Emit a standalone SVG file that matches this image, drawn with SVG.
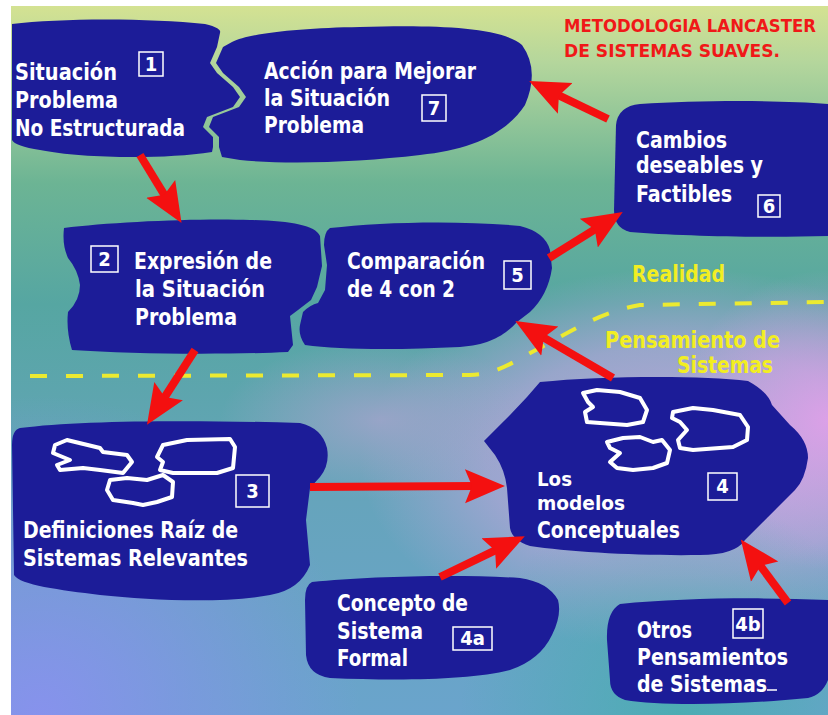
<svg xmlns="http://www.w3.org/2000/svg" width="828" height="715" viewBox="0 0 828 715">
<defs>
<linearGradient id="bgv" x1="0" y1="0" x2="0" y2="1">
<stop offset="0" stop-color="#d4e292"/>
<stop offset="0.08" stop-color="#b4d69c"/>
<stop offset="0.25" stop-color="#6cb494"/>
<stop offset="0.42" stop-color="#56a6a2"/>
<stop offset="0.7" stop-color="#66a4bc"/>
<stop offset="1" stop-color="#6aa4cc"/>
</linearGradient>
<radialGradient id="lav" cx="680" cy="460" r="320" gradientUnits="userSpaceOnUse" gradientTransform="translate(680,460) scale(1,0.6) translate(-680,-460)">
<stop offset="0" stop-color="#c6aae2" stop-opacity="0.95"/>
<stop offset="0.6" stop-color="#b2a6d8" stop-opacity="0.7"/>
<stop offset="1" stop-color="#b2a6d8" stop-opacity="0"/>
</radialGradient>
<radialGradient id="lav2" cx="380" cy="420" r="160" gradientUnits="userSpaceOnUse" gradientTransform="translate(380,420) scale(1,0.5) translate(-380,-420)">
<stop offset="0" stop-color="#a4a4cc" stop-opacity="0.8"/>
<stop offset="1" stop-color="#a4a4cc" stop-opacity="0"/>
</radialGradient>
<radialGradient id="pink" cx="828" cy="420" r="150" gradientUnits="userSpaceOnUse">
<stop offset="0" stop-color="#e2a0ea" stop-opacity="0.9"/>
<stop offset="1" stop-color="#e2a0ea" stop-opacity="0"/>
</radialGradient>
<radialGradient id="blu" cx="40" cy="715" r="320" gradientUnits="userSpaceOnUse">
<stop offset="0" stop-color="#8a90f0" stop-opacity="0.9"/>
<stop offset="1" stop-color="#8a90f0" stop-opacity="0"/>
</radialGradient>
<radialGradient id="teal" cx="680" cy="715" r="220" gradientUnits="userSpaceOnUse">
<stop offset="0" stop-color="#40b0a8" stop-opacity="0.7"/>
<stop offset="1" stop-color="#40b0a8" stop-opacity="0"/>
</radialGradient>
<marker id="ah" markerUnits="userSpaceOnUse" markerWidth="42" markerHeight="38" viewBox="0 -19 42 38" refX="10" refY="0" orient="auto">
<path d="M0,-17 L40,0 L0,17 L7,0 Z" fill="#f41010"/>
</marker>
<style>
.blob{fill:#1c1c98}
.t{font-family:"Liberation Sans Narrow","DejaVu Sans Condensed","Liberation Sans",sans-serif;font-weight:bold;font-size:23px;fill:#ffffff}
.t.sm{font-size:20px}
.num{font-family:"Liberation Sans Narrow","DejaVu Sans Condensed","Liberation Sans",sans-serif;font-weight:bold;font-size:20px;fill:#ffffff;text-anchor:middle}
.box{fill:none;stroke:#ffffff;stroke-width:1.5}
.loop{fill:none;stroke:#ffffff;stroke-width:4;stroke-linejoin:round}
.yl{font-family:"Liberation Sans Narrow","DejaVu Sans Condensed","Liberation Sans",sans-serif;font-weight:bold;font-size:23px;fill:#f2ee22}
.title{font-family:"Liberation Sans Narrow","DejaVu Sans Condensed","Liberation Sans",sans-serif;font-weight:bold;font-size:18px;fill:#f01818}
.dash{fill:none;stroke:#ecea30;stroke-width:4;stroke-dasharray:17 19}
.arrow{fill:none;stroke:#f41010;stroke-width:8;marker-end:url(#ah)}
</style>
</defs>
<rect x="0" y="0" width="828" height="715" fill="#ffffff"/>
<rect x="11" y="6" width="817" height="709" fill="url(#bgv)"/>
<rect x="11" y="6" width="817" height="709" fill="url(#lav)"/>
<rect x="11" y="6" width="817" height="709" fill="url(#lav2)"/>
<rect x="11" y="6" width="817" height="709" fill="url(#pink)"/>
<rect x="11" y="6" width="817" height="709" fill="url(#blu)"/>
<rect x="11" y="6" width="817" height="709" fill="url(#teal)"/>

<text class="title" x="564" y="32" textLength="252" lengthAdjust="spacingAndGlyphs">METODOLOGIA LANCASTER</text>
<text class="title" x="564" y="57" textLength="216" lengthAdjust="spacingAndGlyphs">DE SISTEMAS SUAVES.</text>

<path class="dash" d="M30,376 L470,375 C500,374 515,360 540,348 C570,332 600,312 640,305 L828,302"/>
<text class="yl" x="632" y="282" textLength="93" lengthAdjust="spacingAndGlyphs">Realidad</text>
<text class="yl" x="605" y="348" textLength="175" lengthAdjust="spacingAndGlyphs">Pensamiento de</text>
<text class="yl" x="677" y="373" textLength="96" lengthAdjust="spacingAndGlyphs">Sistemas</text>

<g id="node1">
<path class="blob" d="M12,24 C60,18 150,18 205,24 Q222,28 220,33 L217,47 L210,63 L217,73 L233,87 L240,97 L233,107 L207,117 L203,127 L213,137 L213,147 L212,152 C160,160 80,158 40,150 Q15,146 12,140 Z"/>
<text class="t" x="15" y="80" textLength="102" lengthAdjust="spacingAndGlyphs">Situación</text>
<text class="t" x="15" y="108" textLength="103" lengthAdjust="spacingAndGlyphs">Problema</text>
<text class="t" x="15" y="136" textLength="170" lengthAdjust="spacingAndGlyphs">No Estructurada</text>
<rect class="box" x="139" y="52" width="24" height="24"/>
<text class="num" x="151" y="71">1</text>
</g>

<g id="node7">
<path class="blob" d="M232,42 C250,33 300,28 360,27 C430,25 500,26 522,45 Q540,70 525,105 C505,135 470,150 420,155 C360,162 290,165 240,160 L222,157 L219,147 L219,137 L209,127 L213,117 L239,107 L246,97 L239,87 L223,73 L216,63 L223,47 Z"/>
<text class="t" x="264" y="79" textLength="212" lengthAdjust="spacingAndGlyphs">Acción para Mejorar</text>
<text class="t" x="264" y="106" textLength="126" lengthAdjust="spacingAndGlyphs">la Situación</text>
<text class="t" x="264" y="133" textLength="100" lengthAdjust="spacingAndGlyphs">Problema</text>
<rect class="box" x="422" y="95" width="24" height="26"/>
<text class="num" x="434" y="115">7</text>
</g>

<g id="node6">
<path class="blob" d="M616,125 Q618,106 640,104 C700,100 780,100 828,104 L828,236 C760,238 680,236 630,232 Q614,228 614,210 Z"/>
<text class="t" x="636" y="148" textLength="91" lengthAdjust="spacingAndGlyphs">Cambios</text>
<text class="t" x="636" y="173" textLength="127" lengthAdjust="spacingAndGlyphs">deseables y</text>
<text class="t" x="636" y="202" textLength="96" lengthAdjust="spacingAndGlyphs">Factibles</text>
<rect class="box" x="758" y="195" width="22" height="22"/>
<text class="num" x="769" y="213">6</text>
</g>

<g id="node2">
<path class="blob" d="M64,228 C110,222 200,218 250,220 C290,221 315,225 320,236 L322,266 L317,287 L311,300 L298,310 L290,316 L293,345 L288,352 C220,355 130,354 72,350 Q66,330 68,312 Q80,300 80,285 Q78,270 68,258 Q62,245 64,228 Z"/>
<text class="t" x="134" y="269" textLength="138" lengthAdjust="spacingAndGlyphs">Expresión de</text>
<text class="t" x="135" y="297" textLength="130" lengthAdjust="spacingAndGlyphs">la Situación</text>
<text class="t" x="135" y="325" textLength="102" lengthAdjust="spacingAndGlyphs">Problema</text>
<rect class="box" x="91" y="246" width="27" height="26"/>
<text class="num" x="104.5" y="266">2</text>
</g>

<g id="node5">
<path class="blob" d="M330,228 C380,222 460,220 520,226 Q545,232 550,250 L552,268 Q548,295 530,312 L517,322 C505,335 490,345 460,347 C400,350 340,350 305,345 Q298,335 300,325 L303,312 Q310,305 318,303 L325,290 L327,265 L324,245 Q324,232 330,228 Z"/>
<text class="t" x="347" y="269" textLength="138" lengthAdjust="spacingAndGlyphs">Comparación</text>
<text class="t" x="347" y="297" textLength="108" lengthAdjust="spacingAndGlyphs">de 4 con 2</text>
<rect class="box" x="504" y="261" width="27" height="28"/>
<text class="num" x="517.5" y="282">5</text>
</g>

<g id="node3">
<path class="blob" d="M20,428 C80,420 200,420 300,423 Q322,428 327,448 Q330,465 320,477 L310,488 L306,520 L310,565 Q300,590 270,595 C220,604 150,600 100,595 C60,590 20,585 14,575 L12,445 Q12,430 20,428 Z"/>
<path class="loop" d="M55,445 L67,440 L100,448 L103,452 L127,455 L132,462 L123,473 L100,470 L83,468 L60,470 L57,465 L70,460 L53,453 Z"/>
<path class="loop" d="M157,457 L163,445 L187,440 L230,439 L235,447 L233,468 L217,473 L173,473 L160,470 L163,462 Z"/>
<path class="loop" d="M110,480 L127,478 L147,480 L163,475 L173,482 L172,497 L157,502 L143,505 L133,503 L113,500 L107,490 Z"/>
<text class="t" x="23" y="538" textLength="215" lengthAdjust="spacingAndGlyphs">Definiciones Raíz de</text>
<text class="t" x="23" y="566" textLength="225" lengthAdjust="spacingAndGlyphs">Sistemas Relevantes</text>
<rect class="box" x="236" y="475" width="33" height="32"/>
<text class="num" x="252.5" y="498">3</text>
</g>

<g id="node4">
<path class="blob" d="M540,382 C600,376 700,375 748,381 Q768,392 772,405 L790,425 Q808,440 808,458 Q805,480 795,490 L768,517 L745,540 Q735,555 700,555 C640,556 570,552 530,546 Q512,540 510,528 L507,488 Q505,470 495,455 L484,441 Q500,425 510,415 L527,397 Z"/>
<path class="loop" d="M583,393 L597,390 L620,392 L640,398 L647,410 L643,422 L627,425 L600,423 L587,422 L585,412 L593,407 L588,402 Z"/>
<path class="loop" d="M673,412 L693,408 L713,410 L740,415 L748,427 L747,440 L733,447 L693,450 L680,448 L678,440 L687,430 L680,422 L672,418 Z"/>
<path class="loop" d="M607,442 L623,438 L640,437 L653,442 L662,440 L670,450 L667,463 L653,468 L633,470 L617,468 L610,462 L620,453 L610,448 Z"/>
<text class="t sm" x="537" y="486" textLength="35" lengthAdjust="spacingAndGlyphs">Los</text>
<text class="t sm" x="537" y="510" textLength="88" lengthAdjust="spacingAndGlyphs">modelos</text>
<text class="t" x="537" y="538" textLength="143" lengthAdjust="spacingAndGlyphs">Conceptuales</text>
<rect class="box" x="708" y="473" width="29" height="27"/>
<text class="num" x="722.5" y="493">4</text>
</g>

<g id="node4a">
<path class="blob" d="M312,582 C370,576 460,574 520,578 Q548,582 558,600 Q562,615 552,635 Q540,660 510,670 C470,680 400,681 330,678 Q308,675 306,655 L305,600 Q305,585 312,582 Z"/>
<text class="t" x="337" y="611" textLength="131" lengthAdjust="spacingAndGlyphs">Concepto de</text>
<text class="t" x="337" y="639" textLength="86" lengthAdjust="spacingAndGlyphs">Sistema</text>
<text class="t" x="337" y="666" textLength="71" lengthAdjust="spacingAndGlyphs">Formal</text>
<rect class="box" x="453" y="627" width="39" height="23"/>
<text class="num" x="472.5" y="645">4a</text>
</g>

<g id="node4b">
<path class="blob" d="M620,604 C680,598 760,597 828,600 L828,680 Q822,695 808,698 C740,705 660,706 625,700 Q610,695 610,680 L607,640 Q606,612 620,604 Z"/>
<text class="t" x="637" y="638" textLength="55" lengthAdjust="spacingAndGlyphs">Otros</text>
<text class="t" x="637" y="665" textLength="151" lengthAdjust="spacingAndGlyphs">Pensamientos</text>
<text class="t" x="637" y="692" textLength="130" lengthAdjust="spacingAndGlyphs">de Sistemas</text>
<line x1="767" y1="690" x2="777" y2="690" stroke="#ffffff" stroke-width="1.5"/>
<rect class="box" x="733" y="609" width="30" height="29"/>
<text class="num" x="748" y="631">4b</text>
</g>

<g id="connectors">
<line class="arrow" x1="140" y1="155" x2="165.9" y2="197.4"/>
<line class="arrow" x1="195" y1="350" x2="163.2" y2="399.5"/>
<line class="arrow" x1="310" y1="487" x2="475" y2="486.1"/>
<line class="arrow" x1="440" y1="577" x2="497.8" y2="549.2"/>
<line class="arrow" x1="788" y1="603" x2="758.7" y2="563.5"/>
<line class="arrow" x1="613" y1="378" x2="541.2" y2="336.1"/>
<line class="arrow" x1="549" y1="258" x2="597.3" y2="227.8"/>
<line class="arrow" x1="608" y1="119" x2="556.2" y2="94.1"/>
</g>
</svg>
